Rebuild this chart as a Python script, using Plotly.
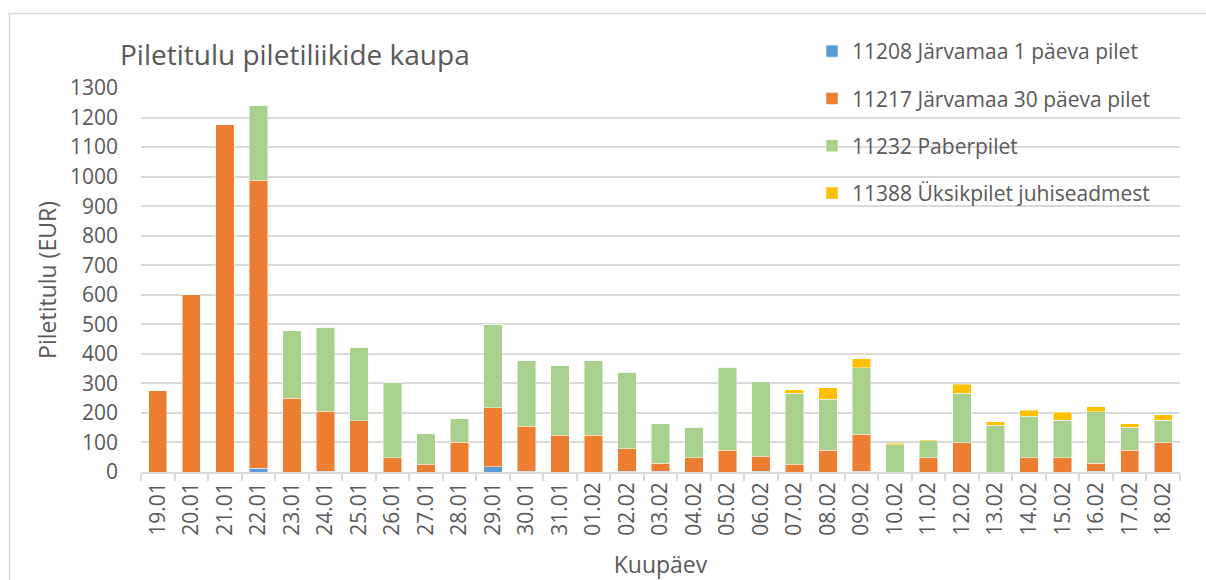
import plotly.graph_objects as go

# Daily ticket revenue by ticket type
dates = ["19.01", "20.01", "21.01", "22.01", "23.01", "24.01", "25.01", "26.01",
         "27.01", "28.01", "29.01", "30.01", "31.01", "01.02", "02.02", "03.02",
         "04.02", "05.02", "06.02", "07.02", "08.02", "09.02", "10.02", "11.02",
         "12.02", "13.02", "14.02", "15.02", "16.02", "17.02", "18.02"]

ticket_1day = [0, 0, 0, 12, 0, 3, 0, 0, 0, 0, 17, 2, 0, 0, 2, 2,
               0, 0, 2, 0, 0, 2, 0, 0, 0, 0, 0, 0, 2, 0, 0]
ticket_30day = [275, 600, 1175, 976, 249, 202, 174, 49, 26, 100, 201, 153, 124, 124, 77, 28,
                49, 73, 51, 26, 73, 126, 0, 49, 99, 0, 49, 49, 28, 73, 99]
paper_ticket = [0, 0, 0, 253, 229, 285, 248, 255, 106, 80, 282, 221, 238, 252, 259, 134,
                103, 281, 252, 241, 173, 225, 93, 56, 168, 159, 140, 127, 174, 79, 77]
single_device = [0, 0, 0, 0, 0, 0, 0, 0, 0, 0, 0, 0, 0, 0, 0, 0,
                 0, 0, 0, 11, 40, 30, 5, 4, 30, 11, 20, 27, 17, 11, 17]

series = [
    ("11208 Järvamaa 1 päeva pilet", ticket_1day, "#5B9BD5"),
    ("11217 Järvamaa 30 päeva pilet", ticket_30day, "#ED7D31"),
    ("11232 Paberpilet", paper_ticket, "#A9D18E"),
    ("11388 Üksikpilet juhiseadmest", single_device, "#FFC000"),
]

FONT = "Open Sans, Noto Sans, sans-serif"
TEXT = "#595959"

fig = go.Figure()
for i, (name, vals, color) in enumerate(series):
    fig.add_trace(go.Bar(
        x=dates, y=vals, name=name, legendgroup=f"g{i}",
        marker=dict(color=color, line=dict(color="rgba(255,255,255,0.6)", width=0.8)),
    ))

L, R, T, B = 141, 26, 88, 108
W, H = 1206, 580
pw, ph = W - L - R, H - T - B

fig.update_layout(
    width=W, height=H,
    margin=dict(l=L, r=R, t=T, b=B),
    barmode="stack", bargap=0.45,
    paper_bgcolor="white", plot_bgcolor="white",
    font=dict(family=FONT, color=TEXT, size=21),
    title=dict(text="Piletitulu piletiliikide kaupa", font=dict(size=28, color=TEXT),
               xref="container", x=120 / W, xanchor="left",
               yref="container", y=1 - 55 / H, yanchor="middle"),
    legend=dict(x=(812 - L) / pw, xanchor="left", y=(H - B - 31) / ph, yanchor="top",
                traceorder="grouped", tracegroupgap=17,
                font=dict(size=21, color=TEXT), bgcolor="rgba(0,0,0,0)",
                itemwidth=30),
    showlegend=True,
)

fig.update_xaxes(
    type="category", tickangle=-90, tickson="boundaries", automargin=False,
    ticks="outside", ticklen=7, tickcolor="#d9d9d9", tickwidth=1.5,
    showline=True, linecolor="#d9d9d9", linewidth=1.5,
    showgrid=False, tickfont=dict(size=21, color=TEXT),
    title=dict(text="Kuupäev", font=dict(size=23, color=TEXT), standoff=23),
)
fig.update_yaxes(
    range=[0, 1300], dtick=100, showgrid=True, gridcolor="#d9d9d9", gridwidth=1.5,
    zeroline=False, showline=False, ticks="", ticklabelstandoff=22, automargin=False,
    tickfont=dict(size=21, color=TEXT),
    title=dict(text="Piletitulu (EUR)", font=dict(size=23, color=TEXT), standoff=6),
)

# Outer chart border (continues past the right and bottom edges)
fig.add_shape(type="rect", xref="paper", yref="paper",
              x0=(9.5 - L) / pw, x1=1.2, y0=-0.6, y1=(H - B - 13.5) / ph,
              line=dict(color="#d9d9d9", width=1.5), fillcolor="rgba(0,0,0,0)", layer="below")

fig.write_html("out.html")
